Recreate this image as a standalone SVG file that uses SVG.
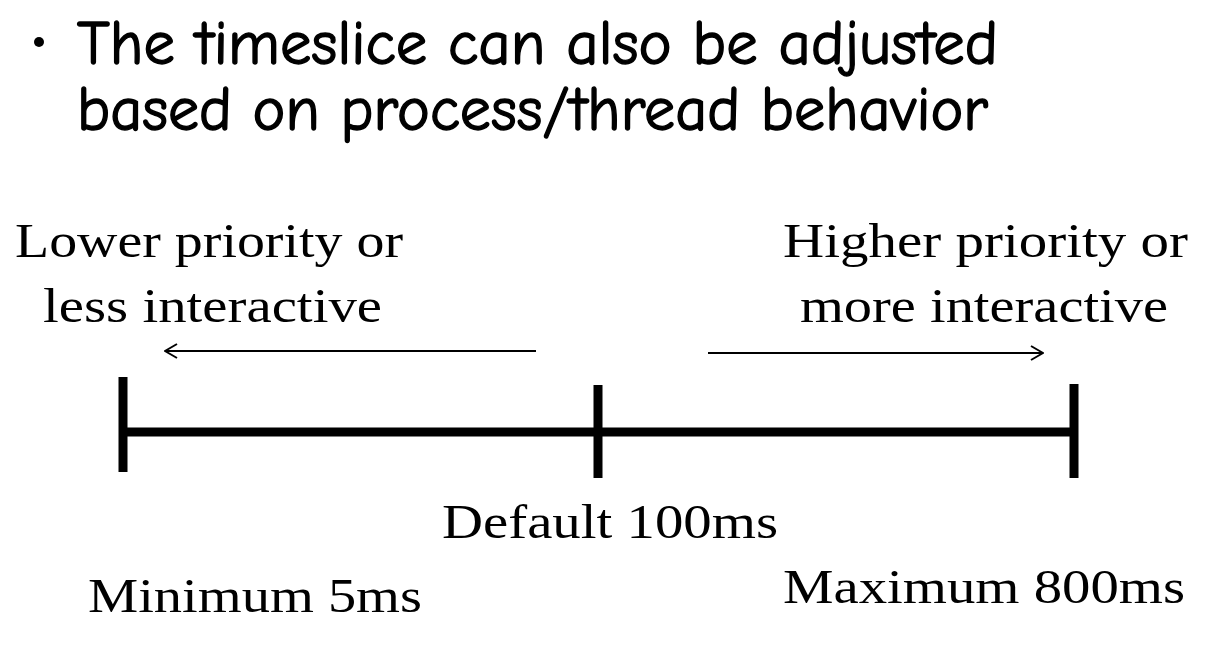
<svg xmlns="http://www.w3.org/2000/svg" width="1210" height="650" viewBox="0 0 1210 650">
<defs>
<style>
.t{font-family:"Liberation Serif","Times New Roman",serif;font-size:48px;fill:#000}
.h{font-family:"Comic Neue","DejaVu Sans","Noto Sans",sans-serif;font-size:63px;font-weight:normal;fill:#000;stroke:#000;stroke-width:1.4}
.thin{stroke:#000;stroke-width:2;fill:none}
.bar{stroke:#000;stroke-width:9;fill:none}
</style>
<marker id="ah" viewBox="0 0 14 16" refX="13" refY="8" markerWidth="14" markerHeight="16" markerUnits="userSpaceOnUse" orient="auto">
<path d="M1,1 L13,8 L1,15" fill="none" stroke="#000" stroke-width="2"/>
</marker>
</defs>
<rect width="1210" height="650" fill="#fff"/>
<g id="title">
<circle cx="39" cy="42" r="5" fill="#000"/>
<text class="h" x="77" y="64" textLength="921" lengthAdjust="spacingAndGlyphs">The timeslice can also be adjusted</text>
<text class="h" x="77" y="130" textLength="911" lengthAdjust="spacingAndGlyphs">based on process/thread behavior</text>
</g>
<g id="labels">
<text class="t" x="15" y="257" textLength="388" lengthAdjust="spacingAndGlyphs">Lower priority or</text>
<text class="t" x="43" y="322" textLength="339" lengthAdjust="spacingAndGlyphs">less interactive</text>
<text class="t" x="783" y="257" textLength="405" lengthAdjust="spacingAndGlyphs">Higher priority or</text>
<text class="t" x="800" y="322" textLength="368" lengthAdjust="spacingAndGlyphs">more interactive</text>
<text class="t" x="442" y="538" textLength="336" lengthAdjust="spacingAndGlyphs">Default 100ms</text>
<text class="t" x="88" y="612" textLength="334" lengthAdjust="spacingAndGlyphs">Minimum 5ms</text>
<text class="t" x="783" y="603" textLength="402" lengthAdjust="spacingAndGlyphs">Maximum 800ms</text>
</g>
<g id="connectors">
<line class="thin" x1="536" y1="351" x2="165" y2="351" marker-end="url(#ah)"/>
<line class="thin" x1="708" y1="353" x2="1043" y2="353" marker-end="url(#ah)"/>
</g>
<g id="timeline">
<line class="bar" x1="123" y1="432" x2="1074" y2="432"/>
<line class="bar" x1="123" y1="377" x2="123" y2="472"/>
<line class="bar" x1="598" y1="385" x2="598" y2="478"/>
<line class="bar" x1="1074" y1="384" x2="1074" y2="478"/>
</g>
</svg>
